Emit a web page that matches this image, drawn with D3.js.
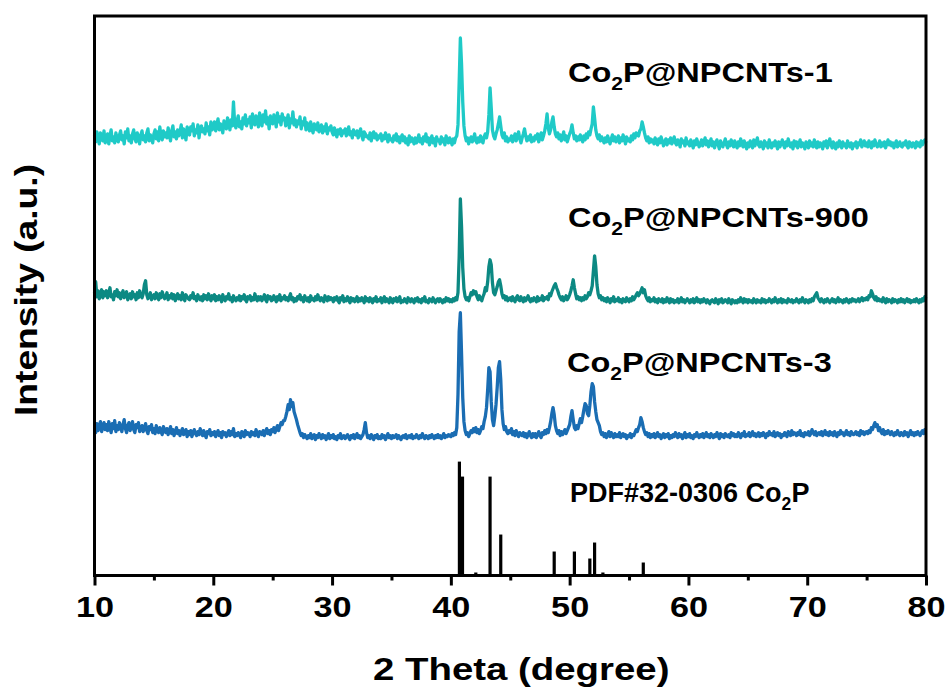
<!DOCTYPE html>
<html>
<head>
<meta charset="utf-8">
<script src="https://cdn.jsdelivr.net/npm/d3@7"></script>
<style>
html,body{margin:0;padding:0;background:#fff;}
svg{display:block;font-family:"Liberation Sans",Arial,sans-serif;font-weight:bold;}
</style>
</head>
<body>
<svg id="chart" width="949" height="691"></svg>
<script>
// 2-theta grid of the measured patterns
const thetaStart = 10;
const thetaStep = 0.1;
const xTicks = [10, 20, 30, 40, 50, 60, 70, 80];
const xMinorTicks = [15, 25, 35, 45, 55, 65, 75];
const seriesNames = ["Co2P@NPCNTs-1", "Co2P@NPCNTs-900", "Co2P@NPCNTs-3"];
const seriesOffsets = [416, 261, 126];

// Co2P@NPCNTs-1 (intensity, a.u., 10.0 -> 80.0 step 0.1)
const npcnts1 = [
25,18,28,21,16,27,22,19,29,17,
22,26,16,24,30,19,23,17,27,21,
18,25,29,20,24,16,28,22,31,19,
24,17,26,30,21,18,27,23,16,25,
29,20,24,18,27,31,19,25,22,17,
26,30,21,28,19,33,24,20,29,23,
27,22,32,25,19,29,34,23,28,21,
30,24,28,35,22,31,26,20,33,27,
25,33,29,36,24,30,27,35,22,32,
34,28,31,26,37,29,33,25,38,30,
32,38,29,35,41,30,36,33,27,39,
35,31,42,37,30,40,34,58,36,32,
39,44,33,38,31,42,36,45,34,40,
37,43,32,46,38,35,44,39,33,47,
40,34,45,38,49,36,42,31,44,39,
36,45,41,33,47,38,43,35,46,40,
42,34,39,45,32,41,37,48,35,40,
33,39,36,43,31,38,35,42,30,37,
34,29,38,31,27,36,33,30,37,28,
31,35,27,33,29,36,26,32,30,34,
28,25,32,27,23,30,26,31,24,29,
27,31,24,29,33,25,28,22,30,26,
25,29,22,27,31,24,20,28,26,23,
24,21,27,19,25,28,22,26,20,24,
22,26,19,24,21,27,23,18,25,20,
21,18,24,20,26,19,23,17,22,25,
19,23,17,21,15,24,18,22,20,16,
22,17,20,25,18,21,16,23,19,26,
18,22,15,20,24,17,21,14,23,19,
20,16,23,18,21,15,24,19,17,22,
19,15,21,17,22,24,35,78,122,96,
58,34,24,19,22,16,20,23,18,21,
26,19,17,22,18,24,20,17,23,26,
22,28,45,72,52,30,24,21,26,30,
36,43,34,25,22,27,19,23,18,21,
20,24,18,22,26,19,23,28,21,17,
22,26,31,24,19,23,20,25,18,22,
19,24,21,26,18,23,27,20,24,29,
36,46,32,26,30,38,43,33,26,23,
27,21,25,19,23,28,20,24,18,22,
26,29,35,27,21,24,19,23,20,25,
21,18,24,20,26,22,28,25,31,36,
53,42,30,24,21,25,19,23,20,17,
22,18,24,20,16,21,25,19,23,18,
20,24,17,22,19,25,21,16,23,19,
21,18,24,20,26,22,27,25,24,29,
31,38,33,27,22,19,23,17,21,18,
20,16,22,18,15,21,17,23,19,14,
18,21,15,20,17,22,16,19,23,17,
15,20,18,13,21,17,19,14,22,16,
18,14,20,16,12,19,15,21,17,13,
16,20,14,18,22,15,19,13,17,21,
14,18,12,17,20,15,11,19,16,13,
17,21,15,12,18,14,20,16,13,19,
15,12,18,14,21,16,13,19,15,11,
17,13,19,16,12,20,14,18,22,15,
13,18,15,11,19,14,17,12,20,16,
12,17,14,19,15,11,18,13,16,20,
15,12,18,14,21,16,13,17,11,19,
14,18,12,16,20,13,17,15,11,18,
16,12,19,14,17,13,20,15,12,18,
13,17,15,11,18,14,19,12,16,21,
15,12,18,14,11,17,13,19,16,12,
18,14,16,12,19,15,13,17,11,16,
14,18,12,17,15,20,13,16,19,14,
17,13,19,15,12,18,14,20,16,13,
15,19,13,17,14,18,12,16,20,15,
18,14,17,12,16,19,13,15,18,14,
13,17,15,19,14,12,18,16,13,17,
16,12,18,14,17,13,19,15,18,20,
17
];

// Co2P@NPCNTs-900
const npcnts900 = [
22,33,18,24,16,21,25,17,23,19,
24,17,22,27,18,20,15,23,19,25,
18,22,16,21,24,17,20,23,15,19,
21,16,23,18,20,15,22,17,24,19,
17,21,30,34,20,16,19,22,15,18,
20,16,22,18,15,21,17,23,19,16,
18,22,15,19,17,21,16,20,14,18,
21,16,19,15,22,17,14,20,18,16,
15,19,17,22,16,18,14,20,17,15,
18,14,20,16,19,15,21,17,14,19,
16,20,14,18,15,19,17,13,20,16,
14,18,16,21,15,17,13,19,16,14,
17,15,19,14,18,16,20,15,13,18,
16,19,14,17,15,21,16,14,18,15,
18,14,17,20,15,13,19,16,18,14,
15,19,16,13,18,15,20,14,17,16,
19,15,17,14,18,21,15,17,13,16,
14,18,16,20,15,17,13,19,16,14,
17,13,19,15,16,14,18,15,20,16,
14,17,15,13,19,16,14,18,15,17,
16,13,17,15,18,14,12,17,15,19,
13,16,14,18,15,12,17,14,16,13,
15,18,13,16,14,17,15,12,18,14,
16,13,17,15,12,16,14,18,13,15,
14,17,12,15,18,13,16,14,12,17,
15,12,16,14,17,13,15,18,12,14,
13,16,14,12,17,15,13,16,14,12,
16,14,17,13,15,12,16,14,18,13,
14,12,16,15,13,17,14,12,15,16,
13,16,14,12,15,13,17,14,16,13,
15,13,16,14,17,15,22,58,116,88,
47,26,18,15,17,14,18,22,20,24,
21,23,18,15,19,16,14,18,21,27,
24,33,48,55,50,32,22,20,24,28,
33,35,29,21,17,19,15,18,14,16,
17,14,18,15,13,17,19,15,14,18,
15,13,17,14,16,19,15,13,16,14,
17,15,13,18,14,16,15,19,14,17,
16,18,15,21,19,23,26,29,31,27,
24,20,17,15,18,14,16,19,15,17,
20,24,29,35,27,21,16,18,15,17,
14,17,15,19,16,18,22,20,24,29,
44,59,48,30,21,17,19,15,17,14,
16,13,17,15,12,16,14,18,13,15,
14,17,13,15,12,16,14,13,17,15,
13,16,14,18,15,17,20,22,19,21,
24,27,22,25,19,16,14,17,13,15,
14,17,13,15,12,16,14,13,16,12,
15,13,17,14,12,16,13,15,12,14,
13,16,12,14,17,13,15,12,14,16,
14,12,15,13,16,12,14,17,13,15,
12,15,13,16,14,12,15,13,11,14,
15,13,12,16,14,11,15,13,16,12,
13,15,14,12,16,13,11,15,14,12,
14,12,15,13,17,14,12,16,13,15,
12,15,13,14,12,16,14,12,15,13,
14,12,16,13,15,12,14,13,16,14,
12,15,13,17,14,12,15,13,16,12,
15,13,14,12,16,14,13,15,12,14,
13,16,14,12,15,13,17,14,12,15,
14,12,15,13,16,14,18,20,22,17,
15,13,16,14,12,15,13,16,14,12,
14,16,13,15,12,14,17,13,15,14,
12,15,13,16,14,12,15,13,16,14,
15,13,14,16,13,15,17,14,16,15,
17,15,19,18,24,21,17,15,18,14,
16,14,15,13,17,14,12,16,13,15,
14,12,16,13,15,14,12,15,13,16,
13,15,12,14,16,13,15,12,14,13,
15,13,16,14,12,15,13,16,14,18,
16
];

// Co2P@NPCNTs-3
const npcnts3 = [
22,17,26,19,24,28,18,23,27,20,
25,19,28,22,17,26,21,29,18,24,
20,27,23,18,25,30,21,17,24,27,
19,23,28,20,17,25,22,27,18,21,
24,18,22,26,19,16,23,20,25,17,
21,16,24,19,17,22,18,15,23,20,
17,21,15,19,23,16,20,14,18,22,
16,19,14,18,21,15,17,20,13,18,
15,19,13,17,20,16,14,18,15,21,
17,14,19,15,12,18,16,20,14,17,
15,18,13,16,19,14,17,12,18,15,
17,13,16,19,14,18,15,21,13,16,
14,17,15,12,18,16,13,19,15,17,
16,13,18,15,17,14,20,16,13,18,
17,15,19,14,18,21,16,19,15,20,
18,22,17,21,24,19,23,27,25,29,
29,33,38,45,40,50,43,47,38,34,
30,25,21,17,14,16,12,15,13,11,
14,12,16,11,13,15,10,14,12,16,
13,11,15,12,14,10,13,16,11,14,
12,15,11,13,10,14,12,16,11,13,
14,11,13,15,12,10,14,12,15,11,
13,16,12,14,11,13,15,20,27,17,
12,14,11,15,13,10,14,12,15,11,
13,11,15,12,14,10,13,16,12,14,
11,14,12,13,15,11,14,12,10,13,
14,12,15,11,13,14,12,15,11,13,
12,15,13,11,14,12,16,13,11,14,
13,11,14,12,15,13,11,14,12,15,
12,14,11,13,16,12,14,13,15,14,
13,16,14,17,15,22,55,118,137,96,
52,28,19,15,17,13,16,19,17,21,
18,22,17,20,16,19,23,21,28,33,
42,60,82,78,48,30,24,33,45,62,
82,88,70,40,26,20,23,18,16,19,
17,21,15,18,14,19,16,13,17,15,
14,17,13,16,12,15,18,14,12,16,
13,16,12,15,18,14,12,17,15,19,
16,20,17,22,28,36,42,35,24,19,
16,19,14,18,15,17,20,16,19,22,
25,33,39,30,22,20,24,21,26,31,
27,33,40,46,44,36,34,44,58,66,
63,48,38,30,27,24,18,15,17,13,
16,12,15,18,13,17,14,12,16,13,
15,13,17,12,14,16,13,15,11,14,
13,16,12,15,14,17,20,18,22,25,
32,28,22,18,15,17,13,16,12,15,
13,16,12,14,17,13,15,11,14,16,
12,15,13,16,11,14,12,15,13,17,
14,12,16,13,15,11,14,17,12,15,
13,16,12,14,11,15,13,17,14,12,
15,13,16,12,14,17,13,15,12,16,
14,12,15,13,17,14,11,16,13,15,
12,16,14,13,15,12,17,14,16,13,
15,13,17,14,12,16,14,18,13,15,
14,17,13,15,18,14,16,13,15,17,
13,16,14,17,15,12,16,14,18,15,
16,14,18,13,15,17,14,16,12,15,
14,17,15,13,18,16,14,19,15,17,
16,14,17,15,19,14,16,13,17,15,
15,18,14,16,20,17,15,18,14,16,
17,15,18,14,16,19,15,17,14,18,
15,17,14,18,16,13,17,15,19,16,
17,14,16,19,15,17,14,18,16,15,
16,18,15,17,14,19,16,18,15,17,
18,16,19,17,22,20,24,27,23,25,
19,22,18,16,20,15,18,16,19,17,
15,18,16,14,17,15,19,16,14,17,
16,14,18,15,17,13,16,19,15,17,
14,17,15,18,16,14,17,19,16,20,
19
];

// PDF#32-0306 Co2P reference lines
const pdfPositions = [40.72, 40.98, 42.1, 43.3, 44.2, 48.7, 50.4, 51.7, 52.1, 52.8, 56.2];
const pdfIntensities = [114, 99, 3, 99, 41, 24, 24, 17, 33, 3, 13];

const seriesColors = ["#1fcac7", "#0c8983", "#1a6db3"];

const svg = d3.select("#chart");
const plotLeft = 94.5, plotRight = 926, plotTop = 16, plotBottom = 575.5;
const x = d3.scaleLinear().domain([10, 80]).range([plotLeft, plotRight]);
const y = d3.scaleLinear().domain([0, 560]).range([plotBottom, plotTop]);

const allSeries = [npcnts1, npcnts900, npcnts3];

allSeries.forEach((vals, k) => {
  const line = d3.line()
    .x((d, i) => x(thetaStart + i * thetaStep))
    .y(d => y(seriesOffsets[k] + d));
  svg.append("path")
    .datum(vals)
    .attr("d", line)
    .attr("fill", "none")
    .attr("stroke", seriesColors[k])
    .attr("stroke-width", 3.3)
    .attr("stroke-linejoin", "round");
});

// reference sticks
svg.append("g").selectAll("line")
  .data(pdfPositions)
  .join("line")
  .attr("x1", d => x(d)).attr("x2", d => x(d))
  .attr("y1", y(0))
  .attr("y2", (d, i) => y(pdfIntensities[i]))
  .attr("stroke", "#000")
  .attr("stroke-width", 3.2);

// frame
svg.append("rect")
  .attr("x", plotLeft).attr("y", plotTop)
  .attr("width", plotRight - plotLeft).attr("height", plotBottom - plotTop)
  .attr("fill", "none").attr("stroke", "#000").attr("stroke-width", 3);

// axes
const xAxis = svg.append("g")
  .attr("transform", `translate(0,${plotBottom})`)
  .call(d3.axisBottom(x).tickValues(xTicks).tickSize(10).tickPadding(10).tickFormat(d3.format("d")));
xAxis.select(".domain").remove();
xAxis.selectAll(".tick line").attr("stroke", "#000").attr("stroke-width", 3);
xAxis.selectAll(".tick text")
  .attr("fill", "#000")
  .attr("transform", "scale(1.14,1)")
  .style("font-size", "30px")
  .style("font-weight", "bold")
  .style("font-family", "'Liberation Sans', Arial, sans-serif");

const xMinor = svg.append("g")
  .attr("transform", `translate(0,${plotBottom})`)
  .call(d3.axisBottom(x).tickValues(xMinorTicks).tickSize(5).tickFormat(""));
xMinor.select(".domain").remove();
xMinor.selectAll(".tick line").attr("stroke", "#000").attr("stroke-width", 3);

// axis titles
svg.append("text")
  .attr("transform", "translate(373,680) scale(1.2,1)")
  .style("font-size", "32px")
  .attr("fill", "#000")
  .text("2 Theta (degree)");

svg.append("text")
  .attr("transform", "translate(37,290) rotate(-90) scale(1.2,1)")
  .attr("text-anchor", "middle")
  .style("font-size", "31px")
  .attr("fill", "#000")
  .text("Intensity (a.u.)");

// series labels
function addLabel(xp, yp, pre, sub, post, size, sx) {
  const t = svg.append("text")
    .attr("transform", `translate(${xp},${yp}) scale(${sx},1)`)
    .style("font-size", size + "px").attr("fill", "#000");
  t.append("tspan").text(pre);
  t.append("tspan").attr("dy", size * 0.28).style("font-size", (size * 0.65) + "px").text(sub);
  t.append("tspan").attr("dy", -size * 0.28).text(post);
}
addLabel(568, 82, "Co", "2", "P@NPCNTs-1", 28, 1.16);
addLabel(568, 227, "Co", "2", "P@NPCNTs-900", 28, 1.16);
addLabel(567, 372, "Co", "2", "P@NPCNTs-3", 28, 1.16);
addLabel(570, 502, "PDF#32-0306 Co", "2", "P", 27, 1.0);
</script>
</body>
</html>
